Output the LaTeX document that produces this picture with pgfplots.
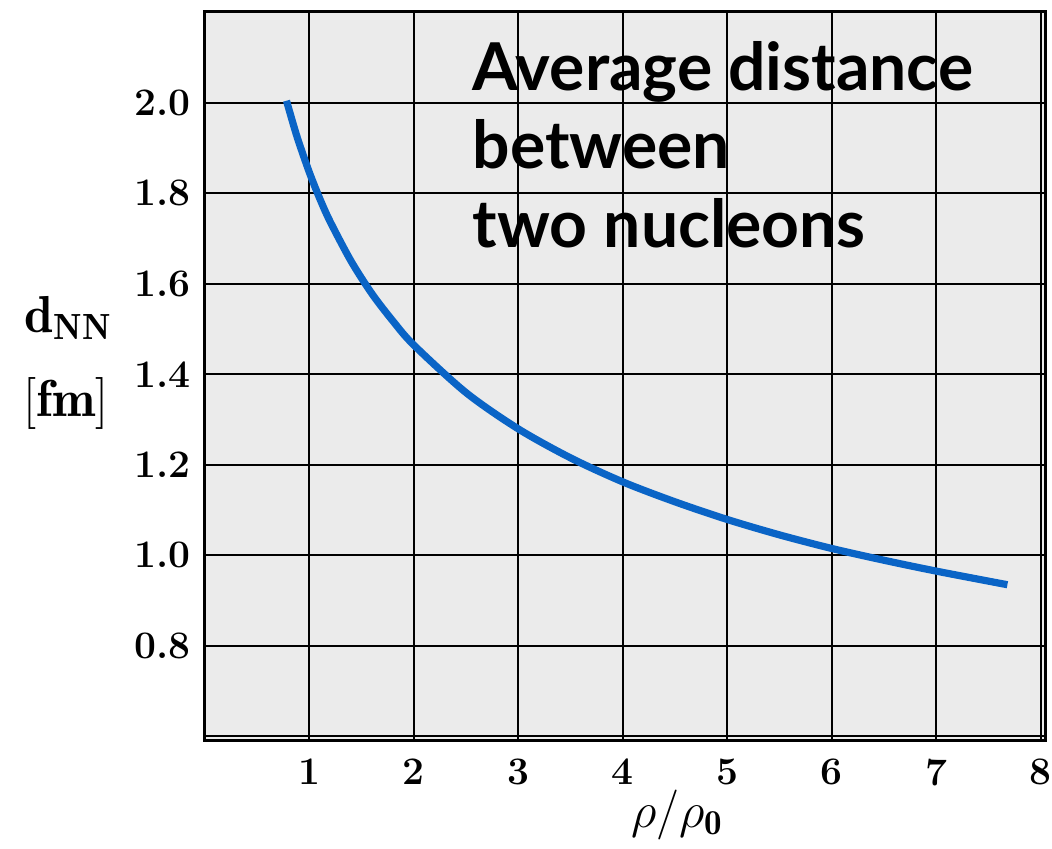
\RequirePackage{fix-cm}
\documentclass[border=0pt]{standalone}
\usepackage{fontspec}
\usepackage{pgfplots}
\pgfplotsset{compat=1.18}
\newfontfamily\titlefont{Lato}
\definecolor{curve}{HTML}{0A64C6}
\definecolor{bg}{HTML}{EBEBEB}
\pgfplotstableread{
x y
0.78 2.004
0.85 1.948
0.90 1.911
1.00 1.845
1.10 1.787
1.20 1.736
1.40 1.649
1.60 1.577
1.80 1.517
2.00 1.464
2.50 1.359
3.00 1.279
3.50 1.215
4.00 1.162
4.50 1.118
5.00 1.079
5.50 1.045
6.00 1.015
6.50 0.989
7.00 0.965
7.68 0.935
}\dnn
\begin{document}
\begin{tikzpicture}
\begin{axis}[
  width=420pt, height=364pt, scale only axis,
  xmin=0, xmax=8.04, ymin=0.592, ymax=2.2,
  axis background/.style={fill=bg},
  xtick={0,1,2,3,4,5,6,7,8}, xticklabels={,1,2,3,4,5,6,7,8},
  ytick={0.6,0.8,1.0,1.2,1.4,1.6,1.8,2.0,2.2},
  yticklabels={,0.8,1.0,1.2,1.4,1.6,1.8,2.0,},
  grid=major, major grid style={black, line width=1pt},
  major tick length=0pt,
  axis line style={line width=1.5pt},
  tick label style={font=\fontsize{19.5}{20}\selectfont\bfseries},
  xticklabel style={yshift=-6pt},
  yticklabel style={xshift=-3.5pt},
  clip=false,
]
\addplot[curve, line width=3.6pt, smooth, line cap=butt] table[x=x,y=y] {\dnn};
\node[anchor=base west, font=\fontsize{33}{36}\selectfont\titlefont\bfseries, inner sep=0pt] at (axis cs:2.56,2.026) {Average distance};
\node[anchor=base west, font=\fontsize{33}{36}\selectfont\titlefont\bfseries, inner sep=0pt] at (axis cs:2.56,1.855) {between};
\node[anchor=base west, font=\fontsize{33}{36}\selectfont\titlefont\bfseries, inner sep=0pt] at (axis cs:2.56,1.680) {two nucleons};
\node[anchor=base, font=\fontsize{26}{28}\selectfont, inner sep=0pt] at (axis cs:-1.31,1.493) {$\mathbf{d}_{\mathbf{NN}}$};
\node[anchor=base, font=\fontsize{26}{28}\selectfont, inner sep=0pt] at (axis cs:-1.33,1.307) {$[\mathbf{fm}]$};
\node[anchor=base, font=\fontsize{25}{27}\selectfont, inner sep=0pt] at (axis cs:4.52,0.399) {$\rho/\rho_{\mathbf{0}}$};
\coordinate (ll) at (rel axis cs:0,0);
\coordinate (ur) at (rel axis cs:1,1);
\end{axis}
\pgfresetboundingbox
\path[use as bounding box] ([shift={(-102.5pt,-54pt)}]ll) rectangle ([shift={(3.5pt,6pt)}]ur);
\end{tikzpicture}
\end{document}
